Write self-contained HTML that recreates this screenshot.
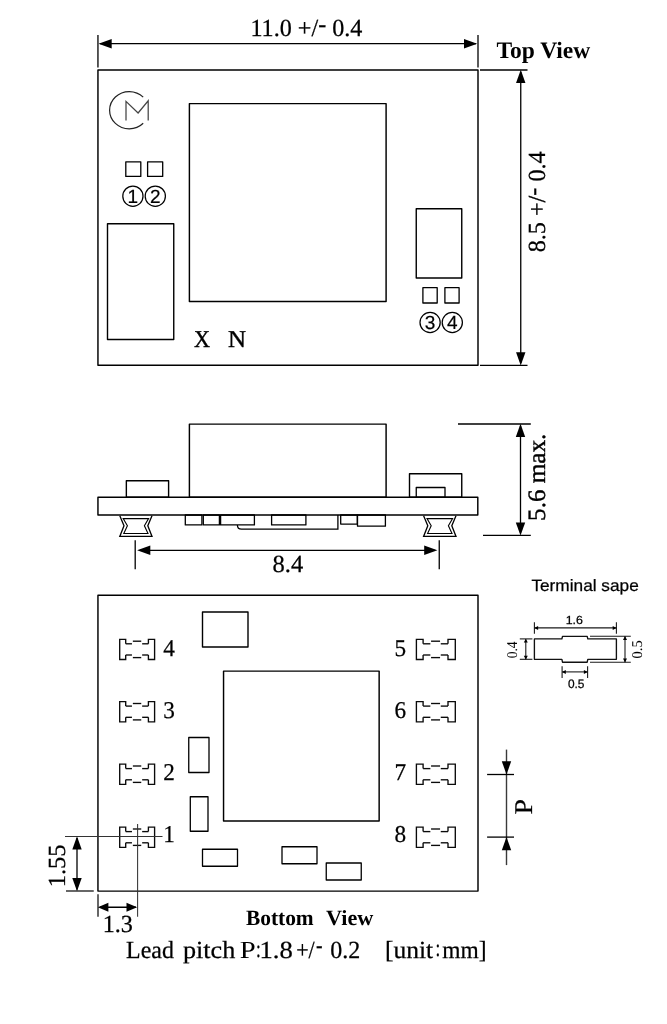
<!DOCTYPE html>
<html lang="en">
<head>
<meta charset="utf-8">
<title>Package outline drawing</title>
<style>
html,body{margin:0;padding:0;background:#fff;}
body{width:667px;height:1024px;overflow:hidden;}
svg{display:block;will-change:transform;filter:grayscale(1);}
text{text-rendering:geometricPrecision;}
</style>
</head>
<body>
<svg width="667" height="1024" viewBox="0 0 667 1024">
<rect x="0" y="0" width="667" height="1024" fill="#fff"/>
<rect x="97.95" y="69.90" width="380.05" height="295.40" fill="none" stroke="#000" stroke-width="1.45" stroke-linejoin="round" />
<line x1="97.95" y1="35.00" x2="97.95" y2="67.50" stroke="#000" stroke-width="1.3"/>
<line x1="478.00" y1="35.00" x2="478.00" y2="67.50" stroke="#000" stroke-width="1.3"/>
<line x1="99.95" y1="43.70" x2="476.00" y2="43.70" stroke="#000" stroke-width="1.3"/>
<polygon points="98.50,43.70 111.70,39.00 111.70,48.40" fill="#000"/>
<polygon points="477.20,43.70 464.00,48.40 464.00,39.00" fill="#000"/>
<text x="250.41" y="36.30" font-family="'Liberation Serif','Noto Serif CJK SC',serif" font-size="24.6" font-weight="normal" text-anchor="start" fill="#000" xml:space="preserve" textLength="112.02" lengthAdjust="spacingAndGlyphs"  stroke="#000" stroke-width="0.25">11.0 +/<tspan dy="-4.6">-</tspan><tspan dy="4.6"> </tspan>0.4</text>
<text x="496.43" y="58.40" font-family="'Liberation Serif','Noto Serif CJK SC',serif" font-size="23.6" font-weight="bold" text-anchor="start" fill="#000" xml:space="preserve" textLength="93.86" lengthAdjust="spacingAndGlyphs" stroke="none">Top View</text>
<path d="M143.20,97.18 A19.6,18.6 0 1 0 143.20,123.22" fill="none" stroke="#222" stroke-width="1.2" />
<path d="M126,120.6 L126,101.4 L138.1,113 L148.2,100.8 L148.2,120.6" fill="none" stroke="#444" stroke-width="1.25" stroke-linejoin="miter"/>
<rect x="125.80" y="161.80" width="15.00" height="14.60" fill="none" stroke="#000" stroke-width="1.3" stroke-linejoin="round" />
<rect x="147.60" y="161.80" width="15.10" height="14.60" fill="none" stroke="#000" stroke-width="1.3" stroke-linejoin="round" />
<circle cx="132.90" cy="196.20" r="10.1" fill="none" stroke="#000" stroke-width="1.25"/>
<text x="132.90" y="203.00" font-family="'Liberation Sans','Noto Sans CJK JP',sans-serif" font-size="19.0" font-weight="normal" text-anchor="middle" fill="#000" xml:space="preserve" stroke="#000" stroke-width="0.2">1</text>
<circle cx="155.30" cy="196.20" r="10.1" fill="none" stroke="#000" stroke-width="1.25"/>
<text x="155.30" y="203.00" font-family="'Liberation Sans','Noto Sans CJK JP',sans-serif" font-size="19.0" font-weight="normal" text-anchor="middle" fill="#000" xml:space="preserve" stroke="#000" stroke-width="0.2">2</text>
<rect x="107.50" y="223.75" width="66.25" height="115.75" fill="none" stroke="#000" stroke-width="1.4" stroke-linejoin="round" />
<rect x="189.40" y="103.60" width="196.70" height="197.80" fill="none" stroke="#000" stroke-width="1.45" stroke-linejoin="round" />
<rect x="416.25" y="208.75" width="45.50" height="69.25" fill="none" stroke="#000" stroke-width="1.4" stroke-linejoin="round" />
<rect x="422.90" y="287.70" width="14.30" height="15.30" fill="none" stroke="#000" stroke-width="1.3" stroke-linejoin="round" />
<rect x="444.90" y="287.70" width="14.20" height="15.30" fill="none" stroke="#000" stroke-width="1.3" stroke-linejoin="round" />
<circle cx="430.10" cy="322.50" r="10.1" fill="none" stroke="#000" stroke-width="1.25"/>
<text x="430.10" y="329.30" font-family="'Liberation Sans','Noto Sans CJK JP',sans-serif" font-size="19.0" font-weight="normal" text-anchor="middle" fill="#000" xml:space="preserve" stroke="#000" stroke-width="0.2">3</text>
<circle cx="452.30" cy="322.50" r="10.1" fill="none" stroke="#000" stroke-width="1.25"/>
<text x="452.30" y="329.30" font-family="'Liberation Sans','Noto Sans CJK JP',sans-serif" font-size="19.0" font-weight="normal" text-anchor="middle" fill="#000" xml:space="preserve" stroke="#000" stroke-width="0.2">4</text>
<text x="193.94" y="346.60" font-family="'Liberation Serif','Noto Serif CJK SC',serif" font-size="24.1" font-weight="normal" text-anchor="start" fill="#000" xml:space="preserve" textLength="16.03" lengthAdjust="spacingAndGlyphs" stroke="#000" stroke-width="0.4">X</text>
<text x="228.02" y="346.60" font-family="'Liberation Serif','Noto Serif CJK SC',serif" font-size="24.1" font-weight="normal" text-anchor="start" fill="#000" xml:space="preserve" textLength="18.02" lengthAdjust="spacingAndGlyphs" stroke="#000" stroke-width="0.4">N</text>
<line x1="480.00" y1="70.00" x2="527.50" y2="70.00" stroke="#000" stroke-width="1.3"/>
<line x1="480.00" y1="365.30" x2="527.50" y2="365.30" stroke="#000" stroke-width="1.3"/>
<line x1="520.75" y1="72.00" x2="520.75" y2="363.00" stroke="#000" stroke-width="1.3"/>
<polygon points="520.75,69.80 525.45,83.00 516.05,83.00" fill="#000"/>
<polygon points="520.75,365.40 516.05,352.20 525.45,352.20" fill="#000"/>
<text x="0" y="0" transform="translate(545.20,252.28) rotate(-90)" font-family="'Liberation Serif','Noto Serif CJK SC',serif" font-size="24.6" font-weight="normal" text-anchor="start" fill="#000" xml:space="preserve" textLength="100.90" lengthAdjust="spacingAndGlyphs"  stroke="#000" stroke-width="0.25">8.5 +/<tspan dy="-4.6">-</tspan><tspan dy="4.6"> </tspan>0.4</text>
<rect x="189.40" y="424.10" width="196.70" height="73.20" fill="none" stroke="#000" stroke-width="1.45" stroke-linejoin="round" />
<rect x="97.95" y="497.30" width="379.85" height="17.70" fill="none" stroke="#000" stroke-width="1.45" stroke-linejoin="round" />
<rect x="126.35" y="480.80" width="42.25" height="16.50" fill="none" stroke="#000" stroke-width="1.4" stroke-linejoin="round" />
<rect x="409.50" y="473.80" width="52.25" height="23.50" fill="none" stroke="#000" stroke-width="1.4" stroke-linejoin="round" />
<rect x="416.25" y="487.50" width="28.75" height="9.80" fill="none" stroke="#000" stroke-width="1.3" stroke-linejoin="round" />
<rect x="185.30" y="515.00" width="16.60" height="9.90" fill="none" stroke="#000" stroke-width="1.3" stroke-linejoin="round" />
<rect x="203.30" y="515.00" width="16.10" height="9.90" fill="none" stroke="#000" stroke-width="1.3" stroke-linejoin="round" />
<rect x="220.60" y="515.00" width="33.80" height="9.90" fill="none" stroke="#000" stroke-width="1.3" stroke-linejoin="round" />
<rect x="271.60" y="515.00" width="34.30" height="9.90" fill="none" stroke="#000" stroke-width="1.3" stroke-linejoin="round" />
<path d="M237.4,525 Q237.4,529.2 241.5,529.2 L337.9,529.2 L337.9,515.0" fill="none" stroke="#000" stroke-width="1.3" />
<rect x="340.70" y="515.00" width="16.60" height="9.10" fill="none" stroke="#000" stroke-width="1.3" stroke-linejoin="round" />
<rect x="357.50" y="515.00" width="27.90" height="11.20" fill="none" stroke="#000" stroke-width="1.3" stroke-linejoin="round" />
<path d="M119.80,515.70 L124.00,525.75 L119.80,536.40 L152.00,536.40 L147.80,525.75 L152.00,515.70" fill="none" stroke="#000" stroke-width="1.3" stroke-linejoin="miter"/>
<path d="M123.20,518.60 L148.60,518.60 L144.40,525.75 L148.00,533.50 L123.80,533.50 L127.40,525.75 Z" fill="none" stroke="#000" stroke-width="1.1" />
<path d="M423.60,515.70 L427.80,525.75 L423.60,536.40 L456.00,536.40 L451.80,525.75 L456.00,515.70" fill="none" stroke="#000" stroke-width="1.3" stroke-linejoin="miter"/>
<path d="M427.00,518.60 L452.60,518.60 L448.40,525.75 L452.00,533.50 L427.60,533.50 L431.20,525.75 Z" fill="none" stroke="#000" stroke-width="1.1" />
<line x1="135.20" y1="540.20" x2="135.20" y2="569.30" stroke="#000" stroke-width="1.3"/>
<line x1="439.25" y1="540.20" x2="439.25" y2="569.30" stroke="#000" stroke-width="1.3"/>
<line x1="140.00" y1="550.40" x2="435.00" y2="550.40" stroke="#000" stroke-width="1.3"/>
<polygon points="137.10,550.30 150.30,545.60 150.30,555.00" fill="#000"/>
<polygon points="437.40,550.30 424.20,555.00 424.20,545.60" fill="#000"/>
<text x="272.50" y="571.60" font-family="'Liberation Serif','Noto Serif CJK SC',serif" font-size="24.6" font-weight="normal" text-anchor="start" fill="#000" xml:space="preserve" textLength="30.67" lengthAdjust="spacingAndGlyphs"  stroke="#000" stroke-width="0.25">8.4</text>
<line x1="458.00" y1="424.00" x2="530.80" y2="424.00" stroke="#000" stroke-width="1.3"/>
<line x1="483.00" y1="535.40" x2="530.80" y2="535.40" stroke="#000" stroke-width="1.3"/>
<line x1="520.50" y1="426.00" x2="520.50" y2="533.00" stroke="#000" stroke-width="1.3"/>
<polygon points="520.50,423.80 525.20,437.00 515.80,437.00" fill="#000"/>
<polygon points="520.50,535.60 515.80,522.40 525.20,522.40" fill="#000"/>
<text x="0" y="0" transform="translate(545.10,520.91) rotate(-90)" font-family="'Liberation Serif','Noto Serif CJK SC',serif" font-size="25.0" font-weight="normal" text-anchor="start" fill="#000" xml:space="preserve" textLength="87.29" lengthAdjust="spacingAndGlyphs" stroke="#000" stroke-width="0.4">5.6 max.</text>
<rect x="97.95" y="595.25" width="380.05" height="295.85" fill="none" stroke="#000" stroke-width="1.45" stroke-linejoin="round" />
<rect x="202.50" y="612.00" width="45.50" height="35.00" fill="none" stroke="#000" stroke-width="1.4" stroke-linejoin="round" />
<rect x="223.55" y="671.10" width="155.60" height="149.90" fill="none" stroke="#000" stroke-width="1.45" stroke-linejoin="round" />
<rect x="188.75" y="737.50" width="20.25" height="35.00" fill="none" stroke="#000" stroke-width="1.3" stroke-linejoin="round" />
<rect x="190.30" y="796.75" width="17.70" height="34.50" fill="none" stroke="#000" stroke-width="1.3" stroke-linejoin="round" />
<rect x="202.50" y="849.25" width="35.00" height="17.00" fill="none" stroke="#000" stroke-width="1.3" stroke-linejoin="round" />
<rect x="282.00" y="846.75" width="35.00" height="17.00" fill="none" stroke="#000" stroke-width="1.3" stroke-linejoin="round" />
<rect x="326.25" y="863.00" width="35.00" height="17.00" fill="none" stroke="#000" stroke-width="1.3" stroke-linejoin="round" />
<path d="M125.70,643.80 L125.70,639.30 L119.70,639.30 L119.70,659.50 L125.70,659.50 L125.70,655.00" fill="none" stroke="#0a0a0a" stroke-width="1.35" />
<path d="M148.40,643.80 L148.40,639.30 L154.60,639.30 L154.60,659.50 L148.40,659.50 L148.40,655.00" fill="none" stroke="#0a0a0a" stroke-width="1.35" />
<line x1="125.70" y1="643.80" x2="131.95" y2="643.80" stroke="#0a0a0a" stroke-width="1.35"/>
<line x1="142.15" y1="643.80" x2="148.40" y2="643.80" stroke="#0a0a0a" stroke-width="1.35"/>
<line x1="132.85" y1="641.20" x2="141.25" y2="641.20" stroke="#0a0a0a" stroke-width="1.35"/>
<line x1="125.70" y1="655.00" x2="131.95" y2="655.00" stroke="#0a0a0a" stroke-width="1.35"/>
<line x1="142.15" y1="655.00" x2="148.40" y2="655.00" stroke="#0a0a0a" stroke-width="1.35"/>
<line x1="132.85" y1="657.60" x2="141.25" y2="657.60" stroke="#0a0a0a" stroke-width="1.35"/>
<path d="M423.10,643.80 L423.10,639.30 L416.40,639.30 L416.40,659.50 L423.10,659.50 L423.10,655.00" fill="none" stroke="#0a0a0a" stroke-width="1.35" />
<path d="M448.00,643.80 L448.00,639.30 L455.30,639.30 L455.30,659.50 L448.00,659.50 L448.00,655.00" fill="none" stroke="#0a0a0a" stroke-width="1.35" />
<line x1="423.10" y1="643.80" x2="430.35" y2="643.80" stroke="#0a0a0a" stroke-width="1.35"/>
<line x1="440.75" y1="643.80" x2="448.00" y2="643.80" stroke="#0a0a0a" stroke-width="1.35"/>
<line x1="431.05" y1="641.20" x2="440.05" y2="641.20" stroke="#0a0a0a" stroke-width="1.35"/>
<line x1="423.10" y1="655.00" x2="430.35" y2="655.00" stroke="#0a0a0a" stroke-width="1.35"/>
<line x1="440.75" y1="655.00" x2="448.00" y2="655.00" stroke="#0a0a0a" stroke-width="1.35"/>
<line x1="431.05" y1="657.60" x2="440.05" y2="657.60" stroke="#0a0a0a" stroke-width="1.35"/>
<path d="M125.70,706.10 L125.70,701.60 L119.70,701.60 L119.70,721.80 L125.70,721.80 L125.70,717.30" fill="none" stroke="#0a0a0a" stroke-width="1.35" />
<path d="M148.40,706.10 L148.40,701.60 L154.60,701.60 L154.60,721.80 L148.40,721.80 L148.40,717.30" fill="none" stroke="#0a0a0a" stroke-width="1.35" />
<line x1="125.70" y1="706.10" x2="131.95" y2="706.10" stroke="#0a0a0a" stroke-width="1.35"/>
<line x1="142.15" y1="706.10" x2="148.40" y2="706.10" stroke="#0a0a0a" stroke-width="1.35"/>
<line x1="132.85" y1="703.50" x2="141.25" y2="703.50" stroke="#0a0a0a" stroke-width="1.35"/>
<line x1="125.70" y1="717.30" x2="131.95" y2="717.30" stroke="#0a0a0a" stroke-width="1.35"/>
<line x1="142.15" y1="717.30" x2="148.40" y2="717.30" stroke="#0a0a0a" stroke-width="1.35"/>
<line x1="132.85" y1="719.90" x2="141.25" y2="719.90" stroke="#0a0a0a" stroke-width="1.35"/>
<path d="M423.10,706.10 L423.10,701.60 L416.40,701.60 L416.40,721.80 L423.10,721.80 L423.10,717.30" fill="none" stroke="#0a0a0a" stroke-width="1.35" />
<path d="M448.00,706.10 L448.00,701.60 L455.30,701.60 L455.30,721.80 L448.00,721.80 L448.00,717.30" fill="none" stroke="#0a0a0a" stroke-width="1.35" />
<line x1="423.10" y1="706.10" x2="430.35" y2="706.10" stroke="#0a0a0a" stroke-width="1.35"/>
<line x1="440.75" y1="706.10" x2="448.00" y2="706.10" stroke="#0a0a0a" stroke-width="1.35"/>
<line x1="431.05" y1="703.50" x2="440.05" y2="703.50" stroke="#0a0a0a" stroke-width="1.35"/>
<line x1="423.10" y1="717.30" x2="430.35" y2="717.30" stroke="#0a0a0a" stroke-width="1.35"/>
<line x1="440.75" y1="717.30" x2="448.00" y2="717.30" stroke="#0a0a0a" stroke-width="1.35"/>
<line x1="431.05" y1="719.90" x2="440.05" y2="719.90" stroke="#0a0a0a" stroke-width="1.35"/>
<path d="M125.70,768.60 L125.70,764.10 L119.70,764.10 L119.70,784.30 L125.70,784.30 L125.70,779.80" fill="none" stroke="#0a0a0a" stroke-width="1.35" />
<path d="M148.40,768.60 L148.40,764.10 L154.60,764.10 L154.60,784.30 L148.40,784.30 L148.40,779.80" fill="none" stroke="#0a0a0a" stroke-width="1.35" />
<line x1="125.70" y1="768.60" x2="131.95" y2="768.60" stroke="#0a0a0a" stroke-width="1.35"/>
<line x1="142.15" y1="768.60" x2="148.40" y2="768.60" stroke="#0a0a0a" stroke-width="1.35"/>
<line x1="132.85" y1="766.00" x2="141.25" y2="766.00" stroke="#0a0a0a" stroke-width="1.35"/>
<line x1="125.70" y1="779.80" x2="131.95" y2="779.80" stroke="#0a0a0a" stroke-width="1.35"/>
<line x1="142.15" y1="779.80" x2="148.40" y2="779.80" stroke="#0a0a0a" stroke-width="1.35"/>
<line x1="132.85" y1="782.40" x2="141.25" y2="782.40" stroke="#0a0a0a" stroke-width="1.35"/>
<path d="M423.10,768.60 L423.10,764.10 L416.40,764.10 L416.40,784.30 L423.10,784.30 L423.10,779.80" fill="none" stroke="#0a0a0a" stroke-width="1.35" />
<path d="M448.00,768.60 L448.00,764.10 L455.30,764.10 L455.30,784.30 L448.00,784.30 L448.00,779.80" fill="none" stroke="#0a0a0a" stroke-width="1.35" />
<line x1="423.10" y1="768.60" x2="430.35" y2="768.60" stroke="#0a0a0a" stroke-width="1.35"/>
<line x1="440.75" y1="768.60" x2="448.00" y2="768.60" stroke="#0a0a0a" stroke-width="1.35"/>
<line x1="431.05" y1="766.00" x2="440.05" y2="766.00" stroke="#0a0a0a" stroke-width="1.35"/>
<line x1="423.10" y1="779.80" x2="430.35" y2="779.80" stroke="#0a0a0a" stroke-width="1.35"/>
<line x1="440.75" y1="779.80" x2="448.00" y2="779.80" stroke="#0a0a0a" stroke-width="1.35"/>
<line x1="431.05" y1="782.40" x2="440.05" y2="782.40" stroke="#0a0a0a" stroke-width="1.35"/>
<path d="M125.70,831.60 L125.70,827.10 L119.70,827.10 L119.70,847.30 L125.70,847.30 L125.70,842.80" fill="none" stroke="#0a0a0a" stroke-width="1.35" />
<path d="M148.40,831.60 L148.40,827.10 L154.60,827.10 L154.60,847.30 L148.40,847.30 L148.40,842.80" fill="none" stroke="#0a0a0a" stroke-width="1.35" />
<line x1="125.70" y1="831.60" x2="131.95" y2="831.60" stroke="#0a0a0a" stroke-width="1.35"/>
<line x1="142.15" y1="831.60" x2="148.40" y2="831.60" stroke="#0a0a0a" stroke-width="1.35"/>
<line x1="132.85" y1="829.00" x2="141.25" y2="829.00" stroke="#0a0a0a" stroke-width="1.35"/>
<line x1="125.70" y1="842.80" x2="131.95" y2="842.80" stroke="#0a0a0a" stroke-width="1.35"/>
<line x1="142.15" y1="842.80" x2="148.40" y2="842.80" stroke="#0a0a0a" stroke-width="1.35"/>
<line x1="132.85" y1="845.40" x2="141.25" y2="845.40" stroke="#0a0a0a" stroke-width="1.35"/>
<path d="M423.10,831.60 L423.10,827.10 L416.40,827.10 L416.40,847.30 L423.10,847.30 L423.10,842.80" fill="none" stroke="#0a0a0a" stroke-width="1.35" />
<path d="M448.00,831.60 L448.00,827.10 L455.30,827.10 L455.30,847.30 L448.00,847.30 L448.00,842.80" fill="none" stroke="#0a0a0a" stroke-width="1.35" />
<line x1="423.10" y1="831.60" x2="430.35" y2="831.60" stroke="#0a0a0a" stroke-width="1.35"/>
<line x1="440.75" y1="831.60" x2="448.00" y2="831.60" stroke="#0a0a0a" stroke-width="1.35"/>
<line x1="431.05" y1="829.00" x2="440.05" y2="829.00" stroke="#0a0a0a" stroke-width="1.35"/>
<line x1="423.10" y1="842.80" x2="430.35" y2="842.80" stroke="#0a0a0a" stroke-width="1.35"/>
<line x1="440.75" y1="842.80" x2="448.00" y2="842.80" stroke="#0a0a0a" stroke-width="1.35"/>
<line x1="431.05" y1="845.40" x2="440.05" y2="845.40" stroke="#0a0a0a" stroke-width="1.35"/>
<text x="163.20" y="655.80" font-family="'Liberation Serif','Noto Serif CJK SC',serif" font-size="24.1" font-weight="normal" text-anchor="start" fill="#000" xml:space="preserve" textLength="11.60" lengthAdjust="spacingAndGlyphs"  stroke="#000" stroke-width="0.25">4</text>
<text x="163.20" y="718.10" font-family="'Liberation Serif','Noto Serif CJK SC',serif" font-size="24.1" font-weight="normal" text-anchor="start" fill="#000" xml:space="preserve" textLength="11.60" lengthAdjust="spacingAndGlyphs"  stroke="#000" stroke-width="0.25">3</text>
<text x="163.20" y="780.20" font-family="'Liberation Serif','Noto Serif CJK SC',serif" font-size="24.1" font-weight="normal" text-anchor="start" fill="#000" xml:space="preserve" textLength="11.60" lengthAdjust="spacingAndGlyphs"  stroke="#000" stroke-width="0.25">2</text>
<text x="163.20" y="842.00" font-family="'Liberation Serif','Noto Serif CJK SC',serif" font-size="24.1" font-weight="normal" text-anchor="start" fill="#000" xml:space="preserve" textLength="11.60" lengthAdjust="spacingAndGlyphs"  stroke="#000" stroke-width="0.25">1</text>
<text x="394.60" y="655.80" font-family="'Liberation Serif','Noto Serif CJK SC',serif" font-size="24.1" font-weight="normal" text-anchor="start" fill="#000" xml:space="preserve" textLength="11.60" lengthAdjust="spacingAndGlyphs"  stroke="#000" stroke-width="0.25">5</text>
<text x="394.60" y="718.10" font-family="'Liberation Serif','Noto Serif CJK SC',serif" font-size="24.1" font-weight="normal" text-anchor="start" fill="#000" xml:space="preserve" textLength="11.60" lengthAdjust="spacingAndGlyphs"  stroke="#000" stroke-width="0.25">6</text>
<text x="394.60" y="780.20" font-family="'Liberation Serif','Noto Serif CJK SC',serif" font-size="24.1" font-weight="normal" text-anchor="start" fill="#000" xml:space="preserve" textLength="11.60" lengthAdjust="spacingAndGlyphs"  stroke="#000" stroke-width="0.25">7</text>
<text x="394.60" y="842.00" font-family="'Liberation Serif','Noto Serif CJK SC',serif" font-size="24.1" font-weight="normal" text-anchor="start" fill="#000" xml:space="preserve" textLength="11.60" lengthAdjust="spacingAndGlyphs"  stroke="#000" stroke-width="0.25">8</text>
<line x1="65.00" y1="836.50" x2="162.50" y2="836.50" stroke="#333" stroke-width="1.05"/>
<line x1="66.00" y1="891.00" x2="93.75" y2="891.00" stroke="#000" stroke-width="1.2000000000000002"/>
<line x1="77.00" y1="838.00" x2="77.00" y2="889.50" stroke="#000" stroke-width="1.3"/>
<polygon points="77.00,836.20 81.70,849.40 72.30,849.40" fill="#000"/>
<polygon points="77.00,891.30 72.30,878.10 81.70,878.10" fill="#000"/>
<text x="0" y="0" transform="translate(65.10,887.31) rotate(-90)" font-family="'Liberation Serif','Noto Serif CJK SC',serif" font-size="24.6" font-weight="normal" text-anchor="start" fill="#000" xml:space="preserve" textLength="42.84" lengthAdjust="spacingAndGlyphs"  stroke="#000" stroke-width="0.25">1.55</text>
<line x1="137.60" y1="824.00" x2="137.60" y2="916.80" stroke="#333" stroke-width="1.05"/>
<line x1="98.00" y1="894.30" x2="98.00" y2="916.80" stroke="#000" stroke-width="1.2000000000000002"/>
<line x1="100.00" y1="907.25" x2="136.00" y2="907.25" stroke="#000" stroke-width="1.3"/>
<polygon points="97.80,907.25 108.40,902.75 108.40,911.75" fill="#000"/>
<polygon points="137.10,907.25 126.50,911.75 126.50,902.75" fill="#000"/>
<text x="102.72" y="931.80" font-family="'Liberation Serif','Noto Serif CJK SC',serif" font-size="24.6" font-weight="normal" text-anchor="start" fill="#000" xml:space="preserve" textLength="30.17" lengthAdjust="spacingAndGlyphs"  stroke="#000" stroke-width="0.25">1.3</text>
<text x="245.93" y="925.10" font-family="'Liberation Serif','Noto Serif CJK SC',serif" font-size="21.7" font-weight="bold" text-anchor="start" fill="#000" xml:space="preserve" textLength="67.79" lengthAdjust="spacingAndGlyphs" stroke="none">Bottom</text>
<text x="326.04" y="925.10" font-family="'Liberation Serif','Noto Serif CJK SC',serif" font-size="21.7" font-weight="bold" text-anchor="start" fill="#000" xml:space="preserve" textLength="47.33" lengthAdjust="spacingAndGlyphs" stroke="none">View</text>
<text x="126.07" y="958.00" font-family="'Liberation Serif','Noto Serif CJK SC',serif" font-size="24.6" font-weight="normal" text-anchor="start" fill="#000" xml:space="preserve" textLength="47.81" lengthAdjust="spacingAndGlyphs"  stroke="#000" stroke-width="0.25">Lead</text>
<text x="183.00" y="958.00" font-family="'Liberation Serif','Noto Serif CJK SC',serif" font-size="24.6" font-weight="normal" text-anchor="start" fill="#000" xml:space="preserve" textLength="52.33" lengthAdjust="spacingAndGlyphs"  stroke="#000" stroke-width="0.25">pitch</text>
<text x="239.72" y="958.00" font-family="'Liberation Serif','Noto Serif CJK SC',serif" font-size="24.6" font-weight="normal" text-anchor="start" fill="#000" xml:space="preserve" textLength="15.96" lengthAdjust="spacingAndGlyphs" stroke="none">P</text>
<text x="256.11" y="956.80" font-family="'Liberation Serif','Noto Serif CJK SC',serif" font-size="24.6" font-weight="normal" text-anchor="start" fill="#000" xml:space="preserve" textLength="4.76" lengthAdjust="spacingAndGlyphs"  stroke="#000" stroke-width="0.25">:</text>
<text x="259.50" y="958.00" font-family="'Liberation Serif','Noto Serif CJK SC',serif" font-size="24.6" font-weight="normal" text-anchor="start" fill="#000" xml:space="preserve" textLength="33.28" lengthAdjust="spacingAndGlyphs"  stroke="#000" stroke-width="0.25">1.8</text>
<text x="296.18" y="958.00" font-family="'Liberation Serif','Noto Serif CJK SC',serif" font-size="24.6" font-weight="normal" text-anchor="start" fill="#000" xml:space="preserve" textLength="18.49" lengthAdjust="spacingAndGlyphs"  stroke="#000" stroke-width="0.25">+/</text>
<text x="316.10" y="953.40" font-family="'Liberation Serif','Noto Serif CJK SC',serif" font-size="24.6" font-weight="normal" text-anchor="start" fill="#000" xml:space="preserve" textLength="6.55" lengthAdjust="spacingAndGlyphs"  stroke="#000" stroke-width="0.25">-</text>
<text x="330.22" y="958.00" font-family="'Liberation Serif','Noto Serif CJK SC',serif" font-size="24.6" font-weight="normal" text-anchor="start" fill="#000" xml:space="preserve" textLength="30.02" lengthAdjust="spacingAndGlyphs"  stroke="#000" stroke-width="0.25">0.2</text>
<text x="384.95" y="958.00" font-family="'Liberation Serif','Noto Serif CJK SC',serif" font-size="24.6" font-weight="normal" text-anchor="start" fill="#000" xml:space="preserve" textLength="48.24" lengthAdjust="spacingAndGlyphs"  stroke="#000" stroke-width="0.25">[unit</text>
<text x="435.61" y="956.40" font-family="'Liberation Serif','Noto Serif CJK SC',serif" font-size="24.6" font-weight="normal" text-anchor="start" fill="#000" xml:space="preserve" textLength="4.76" lengthAdjust="spacingAndGlyphs"  stroke="#000" stroke-width="0.25">:</text>
<text x="442.32" y="958.00" font-family="'Liberation Serif','Noto Serif CJK SC',serif" font-size="24.6" font-weight="normal" text-anchor="start" fill="#000" xml:space="preserve" textLength="44.22" lengthAdjust="spacingAndGlyphs"  stroke="#000" stroke-width="0.25">mm]</text>
<line x1="506.50" y1="749.60" x2="506.50" y2="865.10" stroke="#3a3a3a" stroke-width="1.4000000000000001"/>
<line x1="487.10" y1="774.50" x2="514.00" y2="774.50" stroke="#000" stroke-width="1.3"/>
<line x1="487.10" y1="837.10" x2="514.00" y2="837.10" stroke="#000" stroke-width="1.3"/>
<polygon points="506.50,774.50 501.80,761.30 511.20,761.30" fill="#000"/>
<polygon points="506.50,837.10 511.20,850.30 501.80,850.30" fill="#000"/>
<text x="0" y="0" transform="translate(531.50,814.62) rotate(-90)" font-family="'Liberation Serif','Noto Serif CJK SC',serif" font-size="25.5" font-weight="normal" text-anchor="start" fill="#000" xml:space="preserve" textLength="15.59" lengthAdjust="spacingAndGlyphs"  stroke="#000" stroke-width="0.25">P</text>
<text x="531.41" y="591.40" font-family="'Liberation Sans','Noto Sans CJK JP',sans-serif" font-size="16.5" font-weight="normal" text-anchor="start" fill="#000" xml:space="preserve" textLength="107.34" lengthAdjust="spacingAndGlyphs"  stroke="#000" stroke-width="0.25">Terminal sape</text>
<path d="M534.4,638.9 L561.9,638.9 L562.5,636.3 L587.2,636.3 L587.8,638.9 L616.4,638.9 L616.4,659.3 L587.8,659.3 L587.2,662.2 L562.5,662.2 L561.9,659.3 L534.4,659.3 Z" fill="none" stroke="#111" stroke-width="1.35" stroke-linejoin="round"/>
<line x1="590.00" y1="636.30" x2="630.80" y2="636.30" stroke="#1a1a1a" stroke-width="1.1"/>
<line x1="590.00" y1="662.20" x2="630.80" y2="662.20" stroke="#1a1a1a" stroke-width="1.1"/>
<line x1="534.40" y1="627.90" x2="616.40" y2="627.90" stroke="#1a1a1a" stroke-width="1.1"/>
<line x1="534.40" y1="622.20" x2="534.40" y2="633.80" stroke="#1a1a1a" stroke-width="1.1"/>
<line x1="616.40" y1="622.20" x2="616.40" y2="633.80" stroke="#1a1a1a" stroke-width="1.1"/>
<polygon points="534.30,627.90 538.10,625.90 538.10,629.90" fill="#000"/>
<polygon points="616.50,627.90 612.70,629.90 612.70,625.90" fill="#000"/>
<text x="565.68" y="624.20" font-family="'Liberation Sans','Noto Sans CJK JP',sans-serif" font-size="11.8" font-weight="normal" text-anchor="start" fill="#000" xml:space="preserve" textLength="17.17" lengthAdjust="spacingAndGlyphs"  stroke="#000" stroke-width="0.25">1.6</text>
<line x1="525.80" y1="638.90" x2="525.80" y2="659.30" stroke="#1a1a1a" stroke-width="1.1"/>
<line x1="519.80" y1="638.90" x2="532.40" y2="638.90" stroke="#1a1a1a" stroke-width="1.1"/>
<line x1="519.80" y1="659.30" x2="532.40" y2="659.30" stroke="#1a1a1a" stroke-width="1.1"/>
<polygon points="525.80,638.70 527.80,642.50 523.80,642.50" fill="#000"/>
<polygon points="525.80,659.50 523.80,655.70 527.80,655.70" fill="#000"/>
<text x="0" y="0" transform="translate(517.40,658.37) rotate(-90)" font-family="'Liberation Serif','Noto Serif CJK SC',serif" font-size="15" font-weight="normal" text-anchor="start" fill="#000" xml:space="preserve" textLength="16.99" lengthAdjust="spacingAndGlyphs" stroke="none">0.4</text>
<line x1="625.00" y1="636.30" x2="625.00" y2="662.20" stroke="#1a1a1a" stroke-width="1.1"/>
<polygon points="625.00,636.10 627.00,639.90 623.00,639.90" fill="#000"/>
<polygon points="625.00,662.40 623.00,658.60 627.00,658.60" fill="#000"/>
<text x="0" y="0" transform="translate(642.20,658.40) rotate(-90)" font-family="'Liberation Serif','Noto Serif CJK SC',serif" font-size="15" font-weight="normal" text-anchor="start" fill="#000" xml:space="preserve" textLength="18.00" lengthAdjust="spacingAndGlyphs" stroke="none">0.5</text>
<line x1="562.10" y1="671.90" x2="587.60" y2="671.90" stroke="#1a1a1a" stroke-width="1.1"/>
<line x1="562.10" y1="666.20" x2="562.10" y2="677.90" stroke="#1a1a1a" stroke-width="1.1"/>
<line x1="587.60" y1="666.20" x2="587.60" y2="677.90" stroke="#1a1a1a" stroke-width="1.1"/>
<polygon points="562.00,671.90 565.80,669.90 565.80,673.90" fill="#000"/>
<polygon points="587.70,671.90 583.90,673.90 583.90,669.90" fill="#000"/>
<text x="567.91" y="687.80" font-family="'Liberation Sans','Noto Sans CJK JP',sans-serif" font-size="12.2" font-weight="normal" text-anchor="start" fill="#000" xml:space="preserve" textLength="16.54" lengthAdjust="spacingAndGlyphs"  stroke="#000" stroke-width="0.25">0.5</text>
</svg>
</body>
</html>
